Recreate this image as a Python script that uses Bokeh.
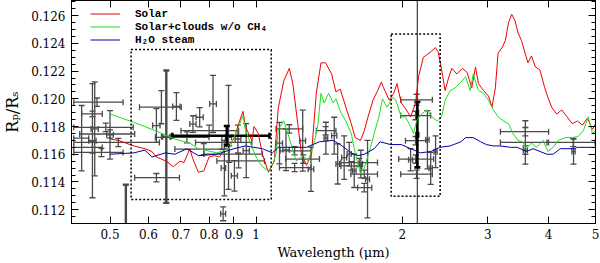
import pandas as pd
from bokeh.plotting import figure
from bokeh.models import (ColumnDataSource, Whisker, TeeHead, BoxAnnotation, LinearAxis, LogAxis,
                          FixedTicker, SingleIntervalTicker, CustomJSTickFormatter, Legend,
                          LegendItem, Range1d)
from bokeh.embed import file_html
from bokeh.resources import INLINE

# ---------------- data ----------------
solar_wl = [0.50, 0.52, 0.56, 0.59, 0.61, 0.623, 0.653, 0.675, 0.697, 0.71, 0.73, 0.74, 0.76, 0.78,
            0.80, 0.82, 0.84, 0.86, 0.87, 0.90, 0.92, 0.94, 0.95, 0.98, 0.99, 1.01, 1.03, 1.06,
            1.09, 1.11, 1.14, 1.17, 1.19, 1.22, 1.24, 1.27, 1.30, 1.33, 1.36, 1.39, 1.43, 1.46,
            1.49, 1.53, 1.57, 1.60, 1.64, 1.67, 1.70, 1.74, 1.78, 1.81, 1.83, 1.88, 1.92, 1.95,
            1.99, 2.03, 2.08, 2.13, 2.16, 2.21, 2.29, 2.34, 2.37, 2.41, 2.45, 2.49, 2.53, 2.59,
            2.66, 2.72, 2.78, 2.83, 2.87, 2.94, 3.01, 3.06, 3.11, 3.15, 3.21, 3.26, 3.31, 3.36,
            3.41, 3.46, 3.52, 3.58, 3.63, 3.69, 3.76, 3.84, 3.93, 3.99, 4.06, 4.16, 4.26, 4.37,
            4.48, 4.59, 4.70, 4.81, 4.93, 5.00]
solar_rp = [0.1171, 0.1170, 0.1166, 0.1164, 0.1162, 0.1158, 0.1155, 0.1151, 0.1155, 0.1154, 0.1164,
            0.1157, 0.1147, 0.1148, 0.1158, 0.1159, 0.1158, 0.1163, 0.1165, 0.1171, 0.1182, 0.1191,
            0.1180, 0.1170, 0.1180, 0.1175, 0.1160, 0.1147, 0.1155, 0.1193, 0.1213, 0.1222, 0.1211,
            0.1180, 0.1160, 0.1152, 0.1160, 0.1204, 0.1226, 0.1226, 0.1218, 0.1205, 0.1207, 0.1194,
            0.1182, 0.1172, 0.1170, 0.1177, 0.1187, 0.1199, 0.1206, 0.1212, 0.1208, 0.1199, 0.1204,
            0.1211, 0.1197, 0.1193, 0.1187, 0.1197, 0.1216, 0.1230, 0.1234, 0.1237, 0.1234, 0.1221,
            0.1206, 0.1215, 0.1222, 0.1218, 0.1222, 0.1219, 0.1208, 0.1223, 0.1211, 0.1206, 0.1202,
            0.1194, 0.1208, 0.1233, 0.1237, 0.1242, 0.1255, 0.1261, 0.1257, 0.1248, 0.1242, 0.1233,
            0.1226, 0.1231, 0.1223, 0.1221, 0.1208, 0.1201, 0.1194, 0.1189, 0.1192, 0.1187, 0.1182,
            0.1184, 0.1181, 0.1186, 0.1178, 0.1182]

clouds_wl = [0.50, 0.56, 0.62, 0.68, 0.73, 0.76, 0.83, 0.88, 0.92, 0.94, 0.95, 0.98, 1.00, 1.03,
             1.06, 1.08, 1.10, 1.11, 1.14, 1.16, 1.19, 1.21, 1.25, 1.28, 1.32, 1.34, 1.36, 1.38,
             1.41, 1.44, 1.46, 1.49, 1.53, 1.57, 1.59, 1.62, 1.64, 1.67, 1.71, 1.75, 1.79, 1.82,
             1.86, 1.91, 1.94, 1.99, 2.03, 2.08, 2.11, 2.14, 2.19, 2.25, 2.30, 2.36, 2.41, 2.45,
             2.51, 2.57, 2.64, 2.70, 2.76, 2.80, 2.87, 2.94, 3.01, 3.08, 3.15, 3.23, 3.31, 3.38,
             3.46, 3.54, 3.60, 3.69, 3.78, 3.90, 3.99, 4.09, 4.19, 4.33, 4.48, 4.61, 4.72, 4.83,
             4.93, 5.00]
clouds_rp = [0.1189, 0.1183, 0.1177, 0.1171, 0.1168, 0.1164, 0.1161, 0.1164, 0.1180, 0.1188, 0.1178,
             0.1165, 0.1158, 0.1151, 0.1148, 0.1152, 0.1161, 0.1178, 0.1184, 0.1176, 0.1163, 0.1155,
             0.1159, 0.1155, 0.1170, 0.1181, 0.1204, 0.1197, 0.1204, 0.1197, 0.1200, 0.1191, 0.1184,
             0.1175, 0.1165, 0.1153, 0.1146, 0.1150, 0.1162, 0.1175, 0.1187, 0.1200, 0.1194, 0.1201,
             0.1199, 0.1187, 0.1187, 0.1180, 0.1175, 0.1184, 0.1189, 0.1192, 0.1187, 0.1184, 0.1187,
             0.1199, 0.1206, 0.1208, 0.1212, 0.1216, 0.1206, 0.1218, 0.1206, 0.1204, 0.1199, 0.1192,
             0.1187, 0.1184, 0.1182, 0.1175, 0.1170, 0.1169, 0.1164, 0.1168, 0.1165, 0.1170, 0.1162,
             0.1165, 0.1170, 0.1172, 0.1172, 0.1173, 0.1177, 0.1187, 0.1175, 0.1177]

steam_wl = [0.50, 0.56, 0.59, 0.61, 0.65, 0.68, 0.72, 0.76, 0.83, 0.90, 0.95, 1.03, 1.08, 1.11,
            1.19, 1.27, 1.35, 1.44, 1.49, 1.57, 1.62, 1.67, 1.75, 1.80, 1.89, 1.99, 2.08, 2.18,
            2.29, 2.39, 2.51, 2.64, 2.70, 2.80, 2.90, 2.98, 3.08, 3.18, 3.34, 3.45, 3.60, 3.72,
            3.97, 4.09, 4.23, 4.52, 4.59, 4.96, 5.00]
steam_rp = [0.1160, 0.1161, 0.1163, 0.1158, 0.1161, 0.1160, 0.1164, 0.1159, 0.1160, 0.1164, 0.1166,
            0.1164, 0.1161, 0.1165, 0.1165, 0.1165, 0.1169, 0.1170, 0.1167, 0.1161, 0.1159, 0.1160,
            0.1164, 0.1169, 0.1167, 0.1167, 0.1164, 0.1161, 0.1162, 0.1165, 0.1166, 0.1169, 0.1172,
            0.1172, 0.1169, 0.1167, 0.1166, 0.1166, 0.1165, 0.1165, 0.1162, 0.1164, 0.1160, 0.1160,
            0.1164, 0.1164, 0.1165, 0.1165, 0.1165]

# observed points: wavelength centre, wavelength range, radius ratio, radius error
obs_wl  = [0.437, 0.460, 0.465, 0.47, 0.46, 0.49, 0.50, 0.52, 0.46, 0.48, 0.50,
           0.623, 0.638, 0.685, 0.623, 0.741, 0.765, 0.815, 0.877, 0.902, 0.86, 0.954,
           0.80, 0.85, 0.78, 0.88, 0.72, 0.92, 0.917, 0.855,
           1.117, 1.152, 1.247, 1.297, 1.17, 1.20, 1.25, 1.20, 1.392, 1.39,
           1.448, 1.518, 1.555, 1.592, 1.696, 1.63, 1.67, 1.67, 1.57, 1.643, 1.472,
           2.14, 2.13, 2.13, 2.14, 2.08, 2.253, 2.342, 2.288, 2.13, 2.148,
           3.585, 3.585, 3.585, 4.50, 4.505]
obs_lo  = [0.421, 0.452, 0.457, 0.421, 0.437, 0.421, 0.433, 0.421, 0.421, 0.421, 0.492,
           0.612, 0.575, 0.673, 0.562, 0.730, 0.752, 0.802, 0.864, 0.889, 0.847, 0.940,
           0.70, 0.75, 0.68, 0.78, 0.62, 0.83, 0.905, 0.845,
           1.101, 1.135, 1.230, 1.280, 1.099, 1.12, 1.15, 1.117, 1.380, 1.33,
           1.430, 1.500, 1.540, 1.578, 1.680, 1.494, 1.567, 1.618, 1.494, 1.630, 1.460,
           1.985, 1.985, 1.966, 1.985, 2.060, 2.235, 2.325, 2.270, 2.03, 2.135,
           3.185, 3.185, 3.550, 3.972, 4.470]
obs_hi  = [0.452, 0.468, 0.473, 0.532, 0.482, 0.558, 0.562, 0.632, 0.482, 0.532, 0.508,
           0.634, 0.701, 0.697, 0.695, 0.752, 0.778, 0.828, 0.890, 0.915, 0.865, 0.968,
           0.92, 0.98, 0.88, 1.03, 0.80, 1.04, 0.930, 0.865,
           1.133, 1.170, 1.264, 1.314, 1.247, 1.30, 1.35, 1.297, 1.404, 1.46,
           1.466, 1.536, 1.570, 1.606, 1.712, 1.778, 1.778, 1.730, 1.650, 1.656, 1.485,
           2.306, 2.288, 2.320, 2.306, 2.100, 2.271, 2.359, 2.306, 2.25, 2.161,
           4.003, 4.003, 3.620, 4.990, 4.540]
obs_rp  = [0.11716, 0.11698, 0.11783, 0.11976, 0.11891, 0.11794, 0.11746, 0.11685, 0.11649, 0.11613,
           0.11740, 0.11807, 0.11940, 0.11945, 0.11431, 0.11818, 0.11867, 0.11963, 0.11722, 0.11444,
           0.11500, 0.11626, 0.11770, 0.11685, 0.11637, 0.11601, 0.11722, 0.11552, 0.11710, 0.11170,
           0.11680, 0.11632, 0.11698, 0.11492, 0.11783, 0.11625, 0.11565, 0.11504, 0.11716, 0.11770,
           0.11734, 0.11576, 0.11601, 0.11480, 0.11420, 0.11540, 0.11456, 0.11359, 0.11516, 0.11529,
           0.11530,
           0.11993, 0.11879, 0.11565, 0.11456, 0.11560, 0.11705, 0.11618, 0.11498, 0.11698, 0.11900,
           0.11685, 0.11763, 0.11630, 0.11685, 0.11619]
obs_err = [0.00236, 0.00412, 0.00339, 0.0003, 0.0002, 0.0003, 0.0003, 0.0003, 0.0004, 0.0003,
           0.00175, 0.00122, 0.00120, 0.00100, 0.0003, 0.0006, 0.0007, 0.00206, 0.00375, 0.0011,
           0.0020, 0.00195, 0.0004, 0.0005, 0.0004, 0.0006, 0.0004, 0.0005, 0.0010, 0.0005,
           0.0015, 0.0015, 0.0022, 0.0016, 0.0003, 0.0003, 0.0003, 0.0003, 0.00115, 0.0003,
           0.00133, 0.00157, 0.00085, 0.0012, 0.0028, 0.0003, 0.0003, 0.0003, 0.0003, 0.0010,
           0.00145,
           0.0004, 0.0003, 0.0003, 0.0003, 0.0008, 0.0021, 0.00115, 0.00115, 0.0003, 0.0085,
           0.00157, 0.0003, 0.0003, 0.0003, 0.00091]

# points with heavier bars
wide_wl  = [0.539, 0.653]
wide_lo  = [0.530, 0.640]
wide_hi  = [0.548, 0.666]
wide_rp  = [0.1108, 0.11727]
wide_err = [0.0030, 0.00478]

# black points
black_wl  = [0.87, 2.148]
black_lo  = [0.672, 2.140]
black_hi  = [1.065, 2.156]
black_rp  = [0.11734, 0.11741]
black_err = [0.0007, 0.00236]

# dotted boxes (wavelength and radius-ratio limits)
box_left   = [0.5525, 1.897]
box_right  = [1.074, 2.393]
box_bottom = [0.11274, 0.11296]
box_top    = [0.12356, 0.12469]

x_ticks = [0.5, 0.6, 0.7, 0.8, 0.9, 1, 2, 3, 4, 5]

# ---------------- figure ----------------
SERIF = "DejaVu Serif"
p = figure(width=600, height=263, x_axis_type="log",
           x_range=Range1d(0.4165, 5.0), y_range=Range1d(0.1110, 0.1271),
           output_backend="svg", toolbar_location=None,
           min_border_left=71, min_border_right=5, min_border_top=0, min_border_bottom=40)
p.xgrid.visible = False
p.ygrid.visible = False
p.outline_line_color = "black"
p.outline_line_width = 1
p.background_fill_color = "white"

r_solar = p.line(solar_wl, solar_rp, line_color="#ee0000", line_width=1)
r_clouds = p.line(clouds_wl, clouds_rp, line_color="#22dd22", line_width=1)
r_steam = p.line(steam_wl, steam_rp, line_color="#0000aa", line_width=1)


def add_errbars(wl, lo, hi, rp, err, color, width):
    df = pd.DataFrame(dict(wl=wl, lo=lo, hi=hi, rp=rp, err=err))
    df["ylo"] = df.rp - df.err
    df["yhi"] = df.rp + df.err
    src = ColumnDataSource(df)
    for dim, base, lower, upper in (("height", "wl", "ylo", "yhi"), ("width", "rp", "lo", "hi")):
        w = Whisker(source=src, base=base, lower=lower, upper=upper, dimension=dim,
                    line_color=color, line_width=width,
                    upper_head=TeeHead(size=6, line_color=color, line_width=width),
                    lower_head=TeeHead(size=6, line_color=color, line_width=width))
        p.add_layout(w)


add_errbars(obs_wl, obs_lo, obs_hi, obs_rp, obs_err, "#4a4a4a", 1.3)
add_errbars(wide_wl, wide_lo, wide_hi, wide_rp, wide_err, "#4a4a4a", 2.4)
add_errbars(black_wl, black_lo, black_hi, black_rp, black_err, "black", 2.6)

for l, r, b, t in zip(box_left, box_right, box_bottom, box_top):
    p.add_layout(BoxAnnotation(left=l, right=r, bottom=b, top=t, fill_alpha=0,
                               line_color="black", line_alpha=1.0, line_width=1.5,
                               line_dash="2 2"))

xfmt = CustomJSTickFormatter(code="return String(Math.round(tick*10)/10);")
yfmt = CustomJSTickFormatter(code="return tick.toFixed(3);")

xa = p.xaxis[0]
xa.ticker = FixedTicker(ticks=x_ticks, minor_ticks=[])
xa.formatter = xfmt
xa.axis_label = "Wavelength (μm)"

ya = p.yaxis[0]
ya.ticker = SingleIntervalTicker(interval=0.002, num_minor_ticks=4)
ya.formatter = yfmt
ya.axis_label = "Rₚ/Rₛ"

top = LogAxis(ticker=FixedTicker(ticks=x_ticks, minor_ticks=[]), formatter=xfmt)
right = LinearAxis(ticker=SingleIntervalTicker(interval=0.002, num_minor_ticks=4), formatter=yfmt)
p.add_layout(top, "above")
p.add_layout(right, "right")

for ax in (xa, ya, top, right):
    ax.axis_line_color = "black"
    ax.major_tick_line_color = "black"
    ax.minor_tick_line_color = "black"
    ax.major_tick_in = 7
    ax.major_tick_out = 0
    ax.minor_tick_in = 4
    ax.minor_tick_out = 0
    ax.major_label_text_font = SERIF
    ax.major_label_text_font_size = "12px"
    ax.major_label_text_color = "black"
    ax.axis_label_text_font = SERIF
    ax.axis_label_text_font_style = "normal"
    ax.axis_label_text_color = "black"

for ax in (top, right):
    ax.major_label_text_font_size = "0px"
    ax.major_label_standoff = 0

xa.major_label_standoff = 5
ya.major_label_standoff = 6
xa.axis_label_text_font_size = "13px"
ya.axis_label_text_font_size = "16px"
xa.axis_label_standoff = 3
ya.axis_label_standoff = 6

legend = Legend(items=[LegendItem(label="Solar", renderers=[r_solar]),
                       LegendItem(label="Solar+clouds w/o CH₄", renderers=[r_clouds]),
                       LegendItem(label="H₂O steam", renderers=[r_steam])],
                location=(19, 177), glyph_width=30, glyph_height=13, label_height=13,
                label_standoff=15, spacing=0, padding=0, margin=0,
                border_line_color=None, background_fill_alpha=0,
                label_text_font="Liberation Mono", label_text_font_size="11px",
                label_text_font_style="bold", label_text_color="black")
p.add_layout(legend)

open("out.html", "w").write(file_html(p, INLINE))
